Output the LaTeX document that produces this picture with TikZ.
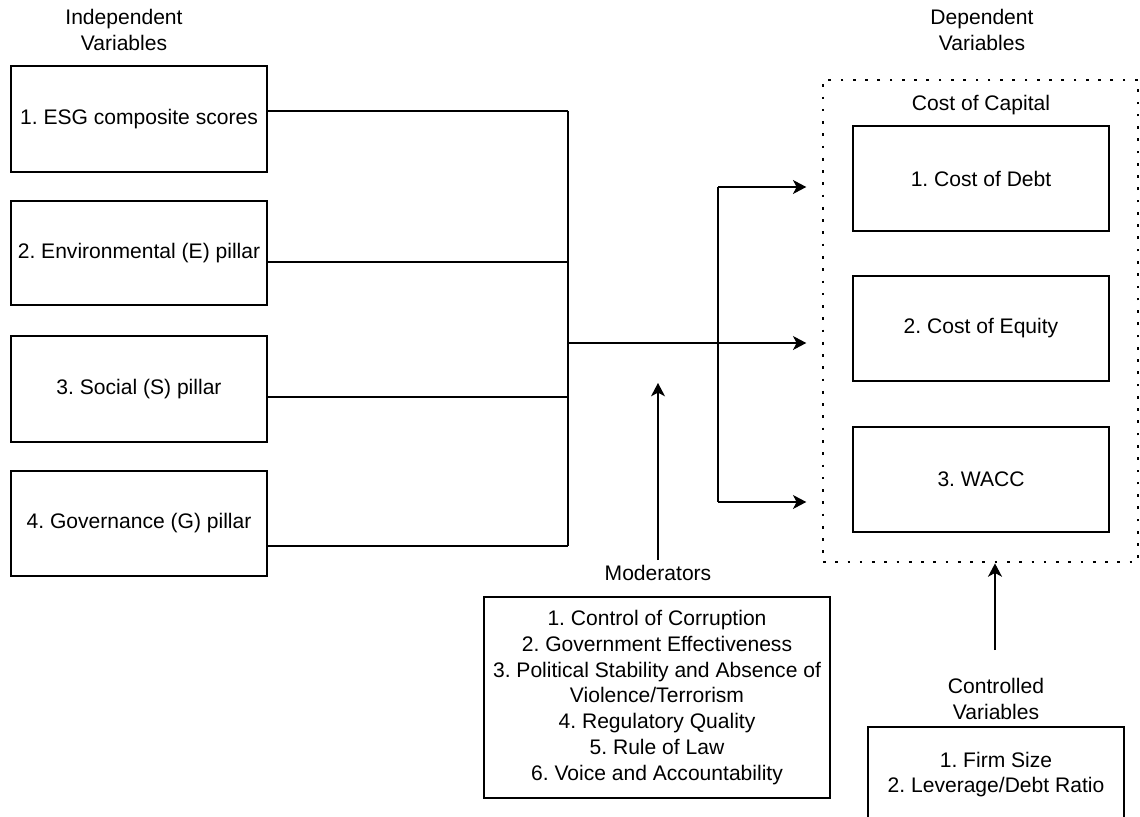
\documentclass[tikz,border=0pt]{standalone}
\usepackage{fontspec}
\setmainfont{Liberation Sans}
\usetikzlibrary{arrows.meta}
\frenchspacing
\tikzset{
  every node/.style={font=\fontsize{15.8pt}{19.4pt}\selectfont\frenchspacing, text=black},
  box/.style={draw=black, line width=1.15pt, rectangle, align=center, inner sep=0pt},
  lbl/.style={align=center, inner sep=0pt},
  wire/.style={draw=black, line width=1.15pt},
  arr/.style={wire, -{Stealth[length=10pt,width=10.5pt,inset=2.8pt]}},
  dotbox/.style={draw=black, line width=2.1pt, dash pattern=on 2pt off 7.2pt, rectangle, inner sep=0pt}
}
\begin{document}
\begin{tikzpicture}[x=0.75pt,y=-0.75pt]
\useasboundingbox (0,0) rectangle (1140,817);
% labels
\node[lbl] (ivl) at (124,30) {Independent\\Variables};
\node[lbl] (dvl) at (982,30) {Dependent\\Variables};
% independent boxes
\node[box, minimum width=192pt, minimum height=79.5pt] (b1) at (139,119) {1. ESG composite scores};
\node[box, minimum width=192pt, minimum height=78pt] (b2) at (139,253) {2. Environmental (E) pillar};
\node[box, minimum width=192pt, minimum height=79.5pt] (b3) at (139,389) {3. Social (S) pillar};
\node[box, minimum width=192pt, minimum height=78.75pt] (b4) at (139,523.5) {4. Governance (G) pillar};
% dependent group
\node[dotbox, minimum width=236.25pt, minimum height=361.5pt] (dv) at (980.5,321) {};
\node[lbl] (coc) at (981,105) {Cost of Capital};
\node[box, minimum width=192pt, minimum height=78.75pt] (d1) at (981,178.5) {1. Cost of Debt};
\node[box, minimum width=192pt, minimum height=78.75pt] (d2) at (981,328.5) {2. Cost of Equity};
\node[box, minimum width=192pt, minimum height=78.75pt] (d3) at (981,479.5) {3. WACC};
% moderators
\node[lbl] (modl) at (658,573) {Moderators};
\node[box, minimum width=259.5pt, minimum height=150.75pt] (mod) at (657,697.5) {1. Control of Corruption\\2. Government Effectiveness\\3. Political Stability and Absence of\\Violence/Terrorism\\4. Regulatory Quality\\5. Rule of Law\\6. Voice and Accountability};
% controlled
\node[lbl] (cvl) at (996,699) {Controlled\\Variables};
\node[box, minimum width=192pt, minimum height=77.25pt] (cv) at (996,778.5) {};
\node[lbl] (cvt) at (996,774.5) {1. Firm Size\\2. Leverage/Debt Ratio};
% junction coordinates
\coordinate (j1) at (568,111);
\coordinate (j2) at (568,262);
\coordinate (j3) at (568,397);
\coordinate (j4) at (568,546);
\coordinate (jm) at (568,343);
\coordinate (s1) at (718,187);
\coordinate (s3) at (718,502);
\coordinate (mtip) at (658,383);
\coordinate (mbot) at (658,560);
\coordinate (cbot) at (995,650);
% wires
\draw[wire] (b1.east |- j1) -- (j1);
\draw[wire] (b2.east |- j2) -- (j2);
\draw[wire] (b3.east |- j3) -- (j3);
\draw[wire] (b4.east |- j4) -- (j4);
\draw[wire] (j1) -- (j4);
\draw[arr, shorten >=11.5pt] (jm) -- (dv.west |- jm);
\draw[wire] (s1) -- (s3);
\draw[arr, shorten >=11.5pt] (s1) -- (dv.west |- s1);
\draw[arr, shorten >=11.5pt] (s3) -- (dv.west |- s3);
\draw[arr] (mbot) -- (mtip);
\draw[arr] (cbot) -- (cbot |- dv.south);
\end{tikzpicture}
\end{document}
